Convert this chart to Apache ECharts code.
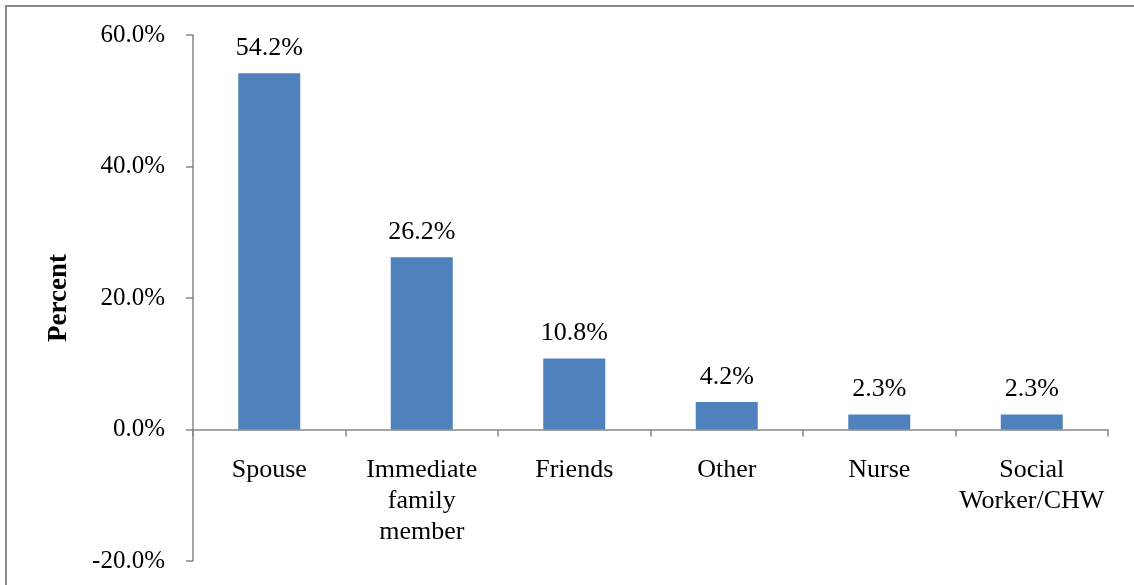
<!DOCTYPE html>
<html>
<head>
<meta charset="utf-8">
<script src="https://cdn.jsdelivr.net/npm/echarts@6/dist/echarts.min.js"></script>
<style>html,body{margin:0;padding:0;background:#fff;}#c{width:1134px;height:585px;}</style>
</head>
<body>
<div id="c"></div>
<script>
const categories = ['Spouse', 'Immediate\nfamily\nmember', 'Friends', 'Other', 'Nurse', 'Social\nWorker/CHW'];
const percentValues = [54.2, 26.2, 10.8, 4.2, 2.3, 2.3];
const yTicks = { min: -20, max: 60, interval: 20 };
const yAxisName = 'Percent';

const font = '"Liberation Serif", "Times New Roman", serif';
const gridTop = 35, gridBottom = 24, chartH = 585;
const plotH = chartH - gridTop - gridBottom;
const zeroOffset = plotH * (0 - yTicks.min) / (yTicks.max - yTicks.min);

const chart = echarts.init(document.getElementById('c'));
chart.setOption({
  animation: false,
  backgroundColor: '#fff',
  graphic: [{
    type: 'rect', shape: { x: 6, y: 6, width: 1300, height: 800 },
    style: { fill: 'none', stroke: '#888888', lineWidth: 2 }, silent: true, z: -1
  }],
  grid: { left: 193, right: 26, top: gridTop, bottom: gridBottom, containLabel: false, outerBoundsMode: 'none' },
  xAxis: {
    type: 'category',
    data: categories,
    offset: -zeroOffset,
    axisLine: { show: true, onZero: false, lineStyle: { color: '#868686', width: 1.5 } },
    axisTick: { show: true, length: 7, inside: false, lineStyle: { color: '#868686', width: 1.5 } },
    axisLabel: { color: '#000', fontFamily: font, fontSize: 26, lineHeight: 31, margin: 25, interval: 0 }
  },
  yAxis: {
    type: 'value',
    min: yTicks.min, max: yTicks.max, interval: yTicks.interval,
    name: yAxisName,
    nameLocation: 'middle',
    nameGap: 120,
    nameRotate: 90,
    nameTextStyle: { color: '#000', fontFamily: font, fontSize: 27, fontWeight: 'bold' },
    axisLine: { show: true, lineStyle: { color: '#868686', width: 1.5 } },
    axisTick: { show: true, length: 7, lineStyle: { color: '#868686', width: 1.5 } },
    splitLine: { show: false },
    axisLabel: { color: '#000', fontFamily: font, fontSize: 25, margin: 28,
      formatter: v => v.toFixed(1) + '%' }
  },
  series: [{
    type: 'bar',
    data: percentValues,
    barWidth: 62,
    itemStyle: { color: '#4F81BD' },
    label: { show: true, position: 'top', distance: 12, color: '#000', fontFamily: font, fontSize: 26,
      formatter: p => p.value.toFixed(1) + '%' }
  }]
});
</script>
</body>
</html>
